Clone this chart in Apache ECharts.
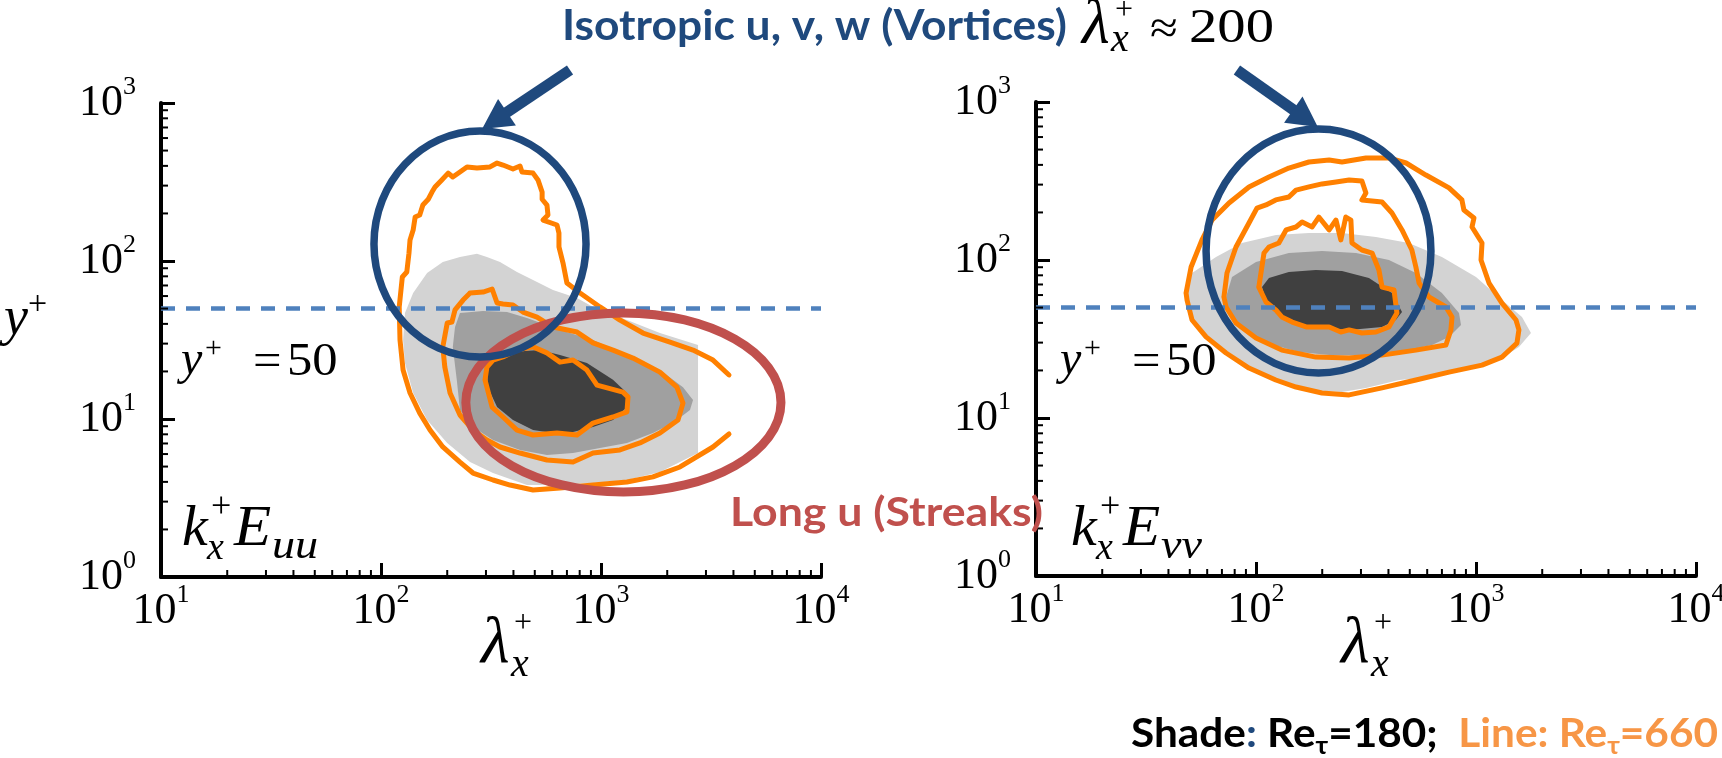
<!DOCTYPE html>
<html><head><meta charset="utf-8">
<script src="https://cdn.jsdelivr.net/npm/echarts@6/dist/echarts.min.js"></script>
<style>html,body{margin:0;padding:0;background:#fff}#c{width:1722px;height:758px}</style>
</head><body><div id="c"></div>
<script>
// ---------------- data ----------------
const xTickExp = [1, 2, 3, 4];          // x tick labels 10^1 .. 10^4
const yTickExp = [0, 1, 2, 3];          // y tick labels 10^0 .. 10^3
const xMinorTicks = [20,30,40,50,60,70,80,90,200,300,400,500,600,700,800,900,2000,3000,4000,5000,6000,7000,8000,9000];
const yMinorTicks = [2,3,4,5,6,7,8,9,20,30,40,50,60,70,80,90,200,300,400,500,600,700,800,900];
const yRef = 50;

// k_x E_uu : shaded Re_tau = 180 (lambda_x+, y+)
const uuShadeLight = [[126,31.6],[128.5,46.9],[140,62.7],[162,84],[191,98.6],[228.5,106],[273,111],[303,106],[347.5,98.6],[415,85.2],[491,75.8],[605,65.5],[778,58.3],[920,51.2],[1312,42.3],[1853,35],[2761,29.4],[2761,6.09],[1853,4.62],[1312,4.11],[920,3.94],[651,3.82],[461,3.82],[323,4.55],[254,5.34],[200,7.05],[162,9.86],[140,14.6],[128.5,22.6]];
const uuShadeMid = [[228.5,46.9],[291,48.3],[374,47.5],[461,43.6],[651,36.6],[920,31.6],[1312,25.4],[1853,20.4],[2359,15.9],[2620,13.2],[2538,11.4],[2123,9.43],[1722,8.15],[1312,7.05],[989,6.55],[746,6.09],[568,5.92],[428.5,6.37],[323,7.36],[262,8.9],[228.5,11.4],[221,17.7],[212,28.6],[217,38.2]];
const uuShadeDark = [[303,22.6],[323,25.4],[398,26.6],[528,27.3],[651,25.4],[863,22.6],[1134,17.7],[1312,14.6],[1312,11.9],[1134,9.86],[920,8.9],[746,8.27],[605,8.15],[491,8.51],[398,9.86],[337,11.9],[306,15.9]];
// k_x E_uu : lines Re_tau = 660
const uuLineOuter = [[3818,8.04],[3229,6.65],[2286,4.97],[1722,4.3],[1312,3.99],[920,3.82],[651,3.66],[491,3.55],[386,3.82],[323,4.11],[262,4.55],[228.5,5.34],[191,6.65],[167,8.51],[150,10.9],[135.5,14.6],[126,20.4],[122,31.6],[121,51.2],[125,79.2],[131,85.2],[134,112],[135.5,136],[140,157],[143,190],[150,195.5],[155,226],[164,246],[170.5,273],[176,294],[189,326],[202,360],[212,340],[228.5,366],[246,394],[273,388],[313,394],[337,417],[358.5,405],[398,382],[428.5,399],[437.5,366],[491,360],[517,326],[540,273],[540,246],[568,226],[574,195.5],[545,181.6],[631,169],[644,150],[644,123],[672,97],[700,72.6],[803,62.7],[989,51.2],[1219,42.3],[1552,35],[2059,30.7],[2620,27.3],[3229,23.6],[3818,19]];
const uuLineMid = [[254,62.7],[291,63.6],[320,66.5],[337,54.2],[358.5,53.4],[398,52.7],[442,47.5],[512,44.2],[605,38.2],[778,35.5],[920,30.3],[1134,27.3],[1397,24.3],[1853,19.8],[2213,15.9],[2359,12.6],[2238,9.86],[1853,8.15],[1503,7.05],[1219,6.37],[920,6.09],[746,5.34],[568,5.5],[428.5,6.09],[347.5,6.65],[303,7.36],[262,8.51],[228.5,10.6],[206,14.6],[195,21.3],[191,28.6],[200,40.5],[210,41.1],[217,49],[236,56.6],[254,62.7]];
const uuLineInner = [[303,21.3],[297,17.7],[320,11.9],[358.5,10.3],[415,8.51],[491,7.92],[631,8.15],[778,7.92],[920,9.43],[1134,10.3],[1312,11.1],[1327,13.8],[1259,14.8],[959,16.4],[863,20.4],[746,23.6],[651,22.9],[568,26.2],[491,28.6],[415,27.3],[358.5,24.7],[323,23.6],[303,21.3]];

// k_x E_vv : shaded Re_tau = 180
const vvShadeLight = [[47.1,61.8],[51.2,82.8],[65.8,104.4],[86.3,128.2],[123.3,143.9],[174,148.3],[246,148.3],[351,139.8],[495,128.2],[700,104.4],[1000,78.1],[1312,55.8],[1618,43.6],[1778,34.5],[1567,28.1],[1272,23.3],[901,20.1],[631,18.2],[447,17.4],[316,15.5],[246,14.6],[174,15],[131,16.6],[100,20.1],[77.8,24.3],[61.1,31.2],[51.2,41.7],[48.1,55.8]];
const vvShadeMid = [[73.1,58.3],[77.8,78.1],[100,97.1],[141,110.7],[199.5,114],[285,110.7],[402,100],[533,82.8],[700,61.8],[837,46.2],[855,38.8],[754,32.6],[631,29],[447,26.2],[316,25],[221,25],[157,26.2],[111,29.8],[86.3,36.1],[75.4,46.2]];
const vvShadeDark = [[106.5,67.4],[114.5,76.9],[141,84],[187,86.4],[246,85.2],[326,76.9],[415,61.8],[461,46.9],[432,41.7],[374,37.7],[265,36.1],[187,37.7],[141,40.5],[123,46.2],[111,55.8]];
// k_x E_vv : lines Re_tau = 660
const vvLineOuter = [[48.1,61.8],[50.7,90.3],[56.8,134],[63.1,179],[75.4,229.6],[92.9,290],[114.5,335],[141,382],[174,417],[215,429.5],[246,417],[316,442],[402,442],[481,411],[592,345],[754,286],[863,240],[881,207],[979,184.5],[959,161.8],[1065,128.2],[1054,100],[1146,71.5],[1312,53.4],[1520,41.7],[1567,36.1],[1535,29.8],[1312,24.3],[1065,21.6],[754,19.5],[533,17.4],[374,15.5],[265,14],[199.5,14.4],[152,15.7],[123,17.4],[92.9,20.7],[73.1,25.8],[59.3,32.6],[51.2,41.7],[48.6,55.8],[48.1,61.8]];
const vvLineMid = [[71.5,58.3],[73.8,82.8],[81.1,120.9],[92.9,171.6],[101,213],[111,223],[123,240],[141,250.6],[152,277],[174,290],[199.5,303],[231,312],[265,321],[303,316],[316,265.5],[303,240],[374,233],[415,198.3],[461,155],[511,115.7],[533,90.3],[551,71.5],[611,58.3],[730,50.4],[778,43.6],[769,36.1],[730,29],[533,26.9],[374,25],[265,24],[187,24.3],[131,26.9],[100,32.1],[81.1,39.9],[73.1,50.4],[71.5,58.3]];
const vvLineInner = [[103,67.4],[108.7,110.7],[114.5,120.9],[127,128.2],[137,155],[152,161.8],[162,174],[180,161.8],[193,187],[215,155],[231,179],[243,134],[256,187],[270,179],[273,128.2],[303,115.7],[337,110.7],[362,86.4],[374,67.4],[424,64.6],[437,46.2],[402,37.7],[351,35],[303,34.5],[265,36.1],[243,35],[215,37.7],[169,37.7],[146,40.5],[131,43.6],[123,48.3],[111,54.2],[103,67.4]];

// annotations in data units: ellipse boxes [x1, x2, y1, y2], arrows [xStart, yStart, xTip, yTip]
const uuVortexEllipse = [92.9, 855, 24.7, 665];
const uuStreakEllipse = [243, 6577, 3.45, 46.9];
const vvVortexEllipse = [59.3, 624, 19.3, 675];
const uuArrow = [723, 1618, 288, 685];
const vvArrow = [81.9, 1594, 191, 695];

// ---------------- styles ----------------
const SERIF = 'Liberation Serif';
const SANS = 'Lato';
const C_LIGHT = '#d3d3d3', C_MID = '#a0a0a0', C_DARK = '#404040';
const C_ORANGE = '#ff8000', C_BLUE = '#1f497d', C_RED = '#c0504d', C_DASH = '#4f81bd';

const chart = echarts.init(document.getElementById('c'), null, {renderer: 'canvas'});

const grids = [
  {left: 161, top: 103, width: 660, height: 474, outerBoundsMode: 'none'},
  {left: 1036, top: 102, width: 660, height: 474, outerBoundsMode: 'none'}
];

const labelRich = {
  b: {fontFamily: SERIF, fontSize: 44, lineHeight: 58, color: '#000'},
  s: {fontFamily: SERIF, fontSize: 26, lineHeight: 32, verticalAlign: 'top', color: '#000'}
};
function fmt(exps) {
  return v => {
    const e = Math.round(Math.log10(v));
    return exps.indexOf(e) >= 0 ? '{b|10}{s|' + e + '}' : '';
  };
}
function xAxisOf(g) {
  return {type: 'log', logBase: 10, gridIndex: g, min: 10, max: 10000,
    axisLine: {show: true, lineStyle: {color: '#000', width: 4}},
    axisTick: {show: true, inside: true, length: 14, lineStyle: {color: '#000', width: 3}},
    minorTick: {show: false}, splitLine: {show: false},
    axisLabel: {margin: 5, formatter: fmt(xTickExp), rich: labelRich}};
}
function yAxisOf(g) {
  return {type: 'log', logBase: 10, gridIndex: g, min: 1, max: 1000,
    axisLine: {show: true, lineStyle: {color: '#000', width: 4}},
    axisTick: {show: true, inside: true, length: 14, lineStyle: {color: '#000', width: 3}},
    minorTick: {show: false}, splitLine: {show: false},
    axisLabel: {margin: 25, formatter: fmt(yTickExp), rich: labelRich}};
}

function polySeries(g, pts, color) {
  return {type: 'custom', xAxisIndex: g, yAxisIndex: g, z: 1, silent: true, clip: false, data: pts,
    renderItem: (p, api) => p.dataIndex === 0 ? {type: 'polygon',
      shape: {points: pts.map(q => api.coord(q))}, style: {fill: color}} : null};
}
function lineSeries(g, pts) {
  return {type: 'line', xAxisIndex: g, yAxisIndex: g, z: 3, silent: true, data: pts,
    showSymbol: false, symbol: 'none', smooth: false,
    lineStyle: {color: C_ORANGE, width: 5, join: 'round', cap: 'round'}};
}
function refLine(g) {
  return {type: 'line', xAxisIndex: g, yAxisIndex: g, z: 4, data: [], silent: true,
    markLine: {silent: true, symbol: 'none', animation: false, label: {show: false},
      lineStyle: {type: [14, 11], width: 4.5, color: C_DASH}, data: [{yAxis: yRef}]}};
}
function minorX(g) {
  return {type: 'custom', xAxisIndex: g, yAxisIndex: g, z: 6, silent: true, clip: false,
    data: xMinorTicks.map(v => [v, 1]),
    renderItem: (p, api) => { const c = api.coord([api.value(0), api.value(1)]);
      return {type: 'line', shape: {x1: c[0], y1: c[1], x2: c[0], y2: c[1] - 7}, style: {stroke: '#000', lineWidth: 2}}; }};
}
function minorY(g) {
  return {type: 'custom', xAxisIndex: g, yAxisIndex: g, z: 6, silent: true, clip: false,
    data: yMinorTicks.map(v => [10, v]),
    renderItem: (p, api) => { const c = api.coord([api.value(0), api.value(1)]);
      return {type: 'line', shape: {x1: c[0], y1: c[1], x2: c[0] + 7, y2: c[1]}, style: {stroke: '#000', lineWidth: 2}}; }};
}
function ellipseSeries(g, box, color, lw, z) {
  return {type: 'custom', xAxisIndex: g, yAxisIndex: g, z, silent: true, clip: false, data: [box],
    renderItem: (p, api) => {
      const a = api.coord([api.value(0), api.value(2)]);
      const b = api.coord([api.value(1), api.value(3)]);
      return {type: 'ellipse', shape: {cx: (a[0] + b[0]) / 2, cy: (a[1] + b[1]) / 2,
        rx: Math.abs(b[0] - a[0]) / 2, ry: Math.abs(b[1] - a[1]) / 2},
        style: {fill: 'none', stroke: color, lineWidth: lw}};
    }};
}
function arrowSeries(g, arr) {
  return {type: 'custom', xAxisIndex: g, yAxisIndex: g, z: 9, silent: true, clip: false, data: [arr],
    renderItem: (p, api) => {
      const s = api.coord([api.value(0), api.value(1)]);
      const t = api.coord([api.value(2), api.value(3)]);
      const dx = t[0] - s[0], dy = t[1] - s[1], L = Math.hypot(dx, dy);
      const ux = dx / L, uy = dy / L, px = -uy, py = ux;
      const hl = 30, hw = 16;
      const bx = t[0] - ux * hl, by = t[1] - uy * hl;
      return {type: 'group', children: [
        {type: 'line', shape: {x1: s[0], y1: s[1], x2: bx + ux * 3, y2: by + uy * 3}, style: {stroke: C_BLUE, lineWidth: 11}},
        {type: 'polygon', shape: {points: [[t[0], t[1]], [bx + px * hw, by + py * hw], [bx - px * hw, by - py * hw]]}, style: {fill: C_BLUE}}
      ]};
    }};
}

// ---------------- text helpers ----------------
const mctx = document.createElement('canvas').getContext('2d');
function fontOf(size, o) { return (o.italic ? 'italic ' : '') + (o.bold ? 'bold ' : '') + size + 'px "' + (o.fam || SERIF) + '"'; }
function tw(text, f) { mctx.font = f; return mctx.measureText(text).width; }
const T = [];
function put(x, base, text, size, o = {}) {
  const fam = o.fam || SERIF;
  const k = (fam === SANS) ? 0.36 : 0.3375;
  T.push({type: 'text', x: x, y: base - k * size, scaleX: o.sx || 1, z: 100, silent: true,
    style: {text: text, fontSize: size, fontFamily: fam, fontStyle: o.italic ? 'italic' : 'normal',
      fontWeight: o.bold ? 'bold' : 'normal', fill: o.color || '#000',
      align: 'left', verticalAlign: 'middle'}});
}
function textRow(x0, base, parts, width, baseOpt) {
  const ws = parts.map(p => tw(p.t, fontOf(p.size || baseOpt.size, Object.assign({}, baseOpt, p))));
  const tot = ws.reduce((a, b) => a + b, 0);
  const sx = width / tot;
  let x = x0;
  parts.forEach((p, i) => {
    put(x, base + (p.dy || 0), p.t, p.size || baseOpt.size, Object.assign({}, baseOpt, p, {sx}));
    x += ws[i] * sx;
  });
}

// title
textRow(562, 42, [{t: 'Isotropic u, v, w (Vortices)'}], 505, {fam: SANS, bold: true, size: 42, color: C_BLUE});
put(1082, 48, 'λ', 64, {italic: true});
put(1115, 21, '+', 32);
put(1111, 54, 'x', 40, {italic: true});
put(1150, 46, '≈', 46, {sx: 1.1});
put(1189, 46, '200', 48, {sx: 1.18});
// Long u
textRow(730, 528, [{t: 'Long u (Streaks)'}], 313, {fam: SANS, bold: true, size: 41, color: C_RED});
// legend
textRow(1131, 748, [
  {t: 'Shade', color: '#000'}, {t: ':', color: C_BLUE}, {t: ' Re', color: '#000'},
  {t: 'τ', color: '#000', size: 25, dy: 7}, {t: '=180;  ', color: '#000'},
  {t: 'Line: Re', color: '#f79646'}, {t: 'τ', color: '#f79646', size: 25, dy: 7}, {t: '=660', color: '#f79646'}
], 587, {fam: SANS, bold: true, size: 40});
// y axis title
put(4, 338, 'y', 54, {italic: true});
put(28, 317, '+', 34);
// x axis titles and in-plot labels
[[161, 481, 20, 21, 'uu'], [1036, 1341, 24, 35, 'vv']].forEach(([gx, lx, oy, ok, sub]) => {
  put(lx, 667, 'λ', 66, {italic: true});
  put(lx + 33, 634, '+', 32);
  put(lx + 30, 679, 'x', 40, {italic: true});
  // y+ = 50
  put(gx + oy, 378, 'y', 48, {italic: true});
  put(gx + oy + 24, 359, '+', 30);
  put(gx + oy + 72, 378, '=', 46, {sx: 1.1});
  put(gx + oy + 106, 378, '50', 46, {sx: 1.1});
  // k_x^+ E_sub
  put(gx + ok, 549, 'k', 58, {italic: true});
  put(gx + ok + 29, 520, '+', 36);
  put(gx + ok + 25, 562, 'x', 38, {italic: true});
  put(gx + ok + 52, 549, 'E', 58, {italic: true, sx: 1.05});
  put(gx + ok + 90, 561, sub, 42, {italic: true, sx: 1.1});
});

const series = [];
[[0, uuShadeLight, uuShadeMid, uuShadeDark, uuLineOuter, uuLineMid, uuLineInner],
 [1, vvShadeLight, vvShadeMid, vvShadeDark, vvLineOuter, vvLineMid, vvLineInner]].forEach(([g, l, m, d, o, mi, inn]) => {
  series.push(polySeries(g, l, C_LIGHT), polySeries(g, m, C_MID), polySeries(g, d, C_DARK));
  series.push(lineSeries(g, o), lineSeries(g, mi), lineSeries(g, inn));
  series.push(refLine(g), minorX(g), minorY(g));
});
series.push(ellipseSeries(0, uuStreakEllipse, C_RED, 9, 7));
series.push(ellipseSeries(0, uuVortexEllipse, C_BLUE, 7.5, 8));
series.push(ellipseSeries(1, vvVortexEllipse, C_BLUE, 7.5, 8));
series.push(arrowSeries(0, uuArrow), arrowSeries(1, vvArrow));

chart.setOption({
  animation: false,
  backgroundColor: '#fff',
  grid: grids,
  xAxis: [xAxisOf(0), xAxisOf(1)],
  yAxis: [yAxisOf(0), yAxisOf(1)],
  series: series,
  graphic: {elements: T}
});
</script></body></html>
